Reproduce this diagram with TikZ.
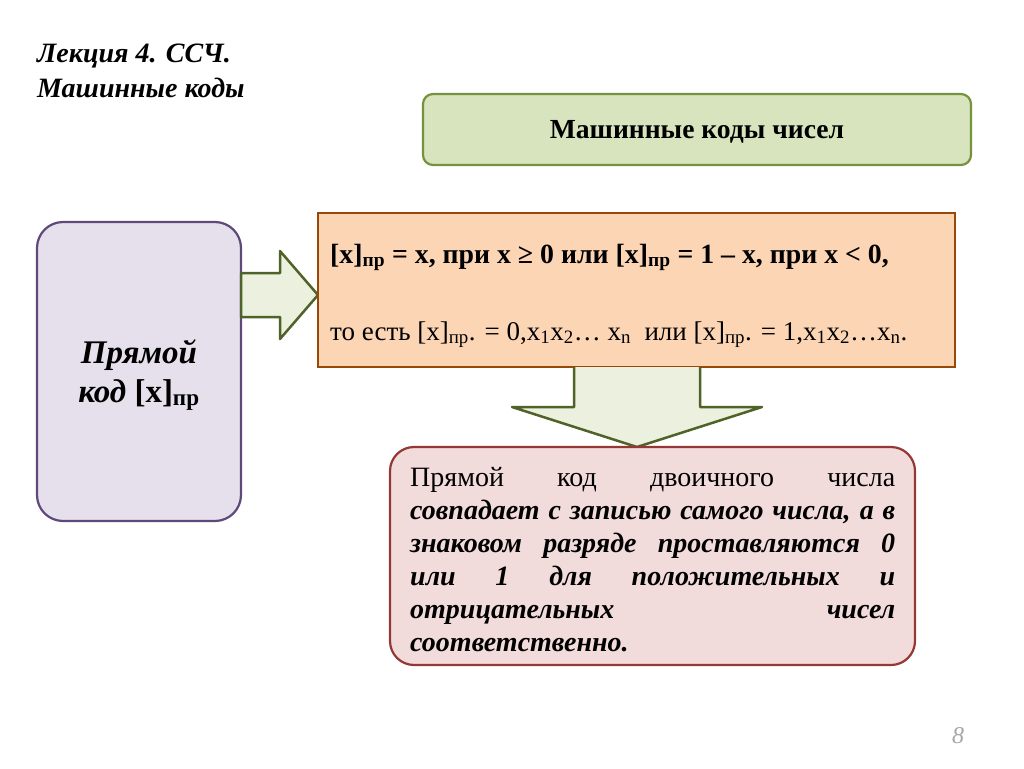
\documentclass[tikz,border=0pt]{standalone}
\usepackage{fontspec}
\setmainfont{Liberation Serif}
\usetikzlibrary{calc}
\definecolor{grfill}{HTML}{EBF1DE}
\definecolor{topfill}{HTML}{D7E4BD}
\definecolor{grline}{HTML}{76923C}
\definecolor{grdark}{HTML}{4F6228}
\definecolor{pufill}{HTML}{E5E0EC}
\definecolor{puline}{HTML}{5F497A}
\definecolor{orfill}{HTML}{FCD5B5}
\definecolor{orline}{HTML}{984807}
\definecolor{rdfill}{HTML}{F2DCDB}
\definecolor{rdline}{HTML}{953735}
\newcommand{\sbx}[1]{\textsubscript{#1}}
\newcommand{\lineS}[1]{\makebox[485pt][s]{#1}}
\tikzset{
  blockarrow/.style={draw=grdark, fill=grfill, line width=2.5pt, line join=round}
}
\begin{document}
\begin{tikzpicture}[x=1pt,y=-1pt]
\useasboundingbox (0,0) rectangle (1024,768);
% title
\node[anchor=base west, align=left, font=\fontsize{28}{35}\selectfont\bfseries\itshape, inner sep=0pt] (title) at (37,97) {Лекция 4. ССЧ.\\Машинные коды};
% top box
\draw[draw=grline, fill=topfill, line width=2.2pt, rounded corners=10pt] (423,94) rectangle (971,165);
\node[font=\fontsize{27.6}{30}\selectfont\bfseries] (top) at (697,132) {Машинные коды чисел};
% purple box
\draw[draw=puline, fill=pufill, line width=2.2pt, rounded corners=26pt] (37,222) rectangle (241,521);
\node[align=center, font=\fontsize{33}{39}\selectfont\bfseries] (kod) at (139,375) {\textit{Прямой}\\\textit{код} [x]\sbx{пр}};
% right arrow
\draw[blockarrow] (241,273) -- (280,273) -- (280,251) -- (318,295) -- (280,339) -- (280,317) -- (241,317) -- cycle;
% orange box
\draw[draw=orline, fill=orfill, line width=2.2pt] (318,213) rectangle (955,367);
\node[anchor=base west, inner sep=0pt, font=\fontsize{27.8}{30}\selectfont\bfseries] (f1) at (330,263) {[x]\sbx{пр} = x, при x ≥ 0 или [x]\sbx{пр} = 1 – x, при x < 0,};
\node[anchor=base west, inner sep=0pt, font=\fontsize{27}{30}\selectfont] (f2) at (330,340) {то есть [x]\sbx{пр}. = 0,x\sbx{1}x\sbx{2}… x\sbx{n} \ или [x]\sbx{пр}. = 1,x\sbx{1}x\sbx{2}…x\sbx{n}.};
% down arrow
\draw[blockarrow] (574,367) -- (574,407) -- (512,407) -- (637,447) -- (762,407) -- (700,407) -- (700,367);
% red box
\draw[draw=rdline, fill=rdfill, line width=2.2pt, rounded corners=24pt] (390,447) rectangle (915,665);
\node[anchor=base west, inner sep=0pt, align=left, font=\fontsize{28}{33}\selectfont] (txt) at (410,651) {%
\lineS{Прямой код двоичного числа}\\
\lineS{\bfseries\itshape совпадает с записью самого числа, а в}\\
\lineS{\bfseries\itshape знаковом разряде проставляются 0}\\
\lineS{\bfseries\itshape или 1 для положительных и}\\
\lineS{\bfseries\itshape отрицательных чисел}\\
{\bfseries\itshape соответственно.}};
% page number
\node[font=\fontsize{24}{28}\selectfont\itshape, text=black!35] (pg) at (958,736) {8};
\end{tikzpicture}
\end{document}
